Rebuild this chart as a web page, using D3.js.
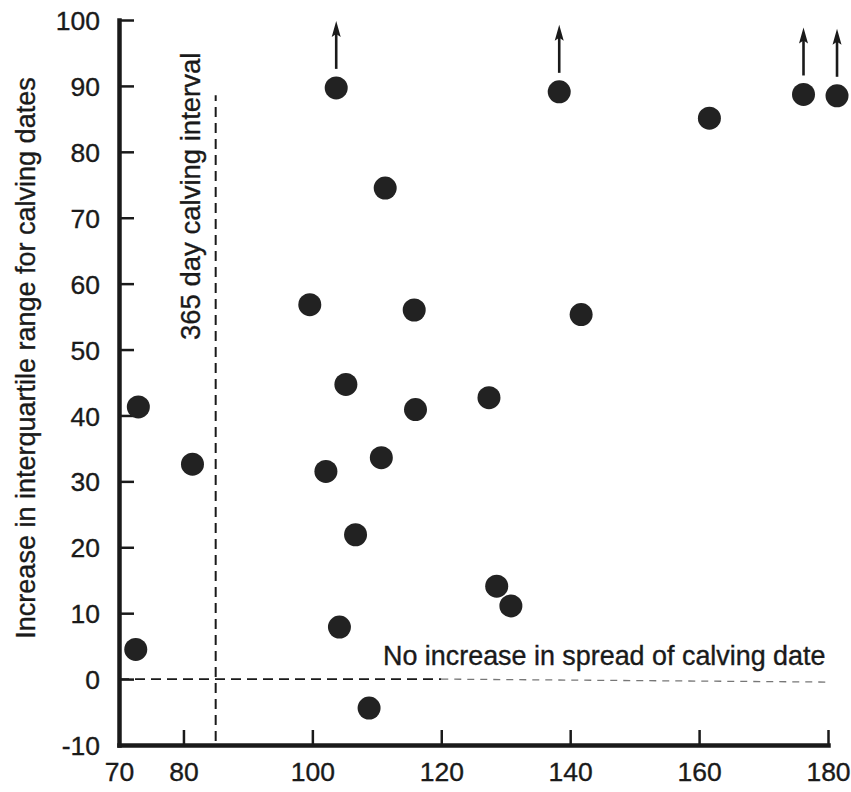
<!DOCTYPE html>
<html>
<head>
<meta charset="utf-8">
<script src="https://cdn.jsdelivr.net/npm/d3@7"></script>
<style>
  body { margin: 0; background: #fff; }
  svg { display: block; }
  text { font-family: "Liberation Sans", Arial, Helvetica, sans-serif; fill: #1a1a1a; stroke: #1a1a1a; stroke-width: 0.35px; }
</style>
</head>
<body>
<script>
// days of calving interval (x) vs increase in interquartile range (y)
const intervalDays = [73.0, 72.6, 81.4, 99.6, 103.7, 105.2, 102.1, 104.2, 106.7, 108.8, 111.3,
  110.7, 115.8, 116.0, 127.4, 128.6, 130.8, 138.3, 141.7, 161.6, 176.2, 181.4];
const rangeIncrease = [41.3, 4.5, 32.6, 56.8, 89.7, 44.7, 31.5, 7.9, 21.9, -4.4, 74.5,
  33.6, 56.0, 40.9, 42.7, 14.1, 11.1, 89.1, 55.3, 85.1, 88.7, 88.5];
// 1 = value runs off the top of the scale (drawn with an arrow)
const offScale = [0, 0, 0, 0, 1, 0, 0, 0, 0, 0, 0,
  0, 0, 0, 0, 0, 0, 1, 0, 0, 1, 1];

const xTicks = [70, 80, 100, 120, 140, 160, 180];
const yTicks = [-10, 0, 10, 20, 30, 40, 50, 60, 70, 80, 90, 100];

const calvingInterval365 = 85;   // x position of the 365 day line
const calvingLineTop = 88.6;
const noIncrease = 0;

const width = 851;
const height = 792;

const x = d3.scaleLinear().domain([70, 180]).range([119, 828]);
const y = d3.scaleLinear().domain([-10, 100]).range([745, 20]);

const svg = d3.select("body").append("svg")
  .attr("width", width)
  .attr("height", height);

// reference lines
svg.append("line")
  .attr("x1", x(calvingInterval365)).attr("x2", x(calvingInterval365))
  .attr("y1", y(-10) - 4).attr("y2", y(calvingLineTop))
  .attr("stroke", "#1a1a1a").attr("stroke-width", 2)
  .attr("stroke-dasharray", "10,6");

svg.append("line")
  .attr("x1", x(70)).attr("x2", x(120))
  .attr("y1", y(noIncrease)).attr("y2", y(noIncrease))
  .attr("stroke", "#1a1a1a").attr("stroke-width", 1.8)
  .attr("stroke-dasharray", "10,6");

svg.append("line")
  .attr("x1", x(120)).attr("x2", x(180))
  .attr("y1", y(noIncrease)).attr("y2", y(noIncrease) + 3)
  .attr("stroke", "#777").attr("stroke-width", 1.3)
  .attr("stroke-dasharray", "7,6");

// axes
const xAxis = (g) =>
  g.attr("transform", `translate(0,${y(-10)})`)
    .call(d3.axisBottom(x).tickValues(xTicks).tickFormat((d) => String(d))
      .tickSize(-15).tickSizeOuter(0).tickPadding(17))
    .call((g) => g.select(".domain").attr("stroke", "#1a1a1a").attr("stroke-width", 4.5).attr("stroke-linecap", "square"))
    .call((g) => g.selectAll(".tick line").attr("stroke", "#1a1a1a").attr("stroke-width", 2.5))
    .call((g) => g.selectAll(".tick").filter((d) => d === 70).select("line").remove())
    .call((g) => g.selectAll(".tick text").attr("font-size", 26.5).attr("font-family", null));

const yAxis = (g) =>
  g.attr("transform", `translate(${x(70)},0)`)
    .call(d3.axisLeft(y).tickValues(yTicks).tickFormat((d) => String(d))
      .tickSize(-15).tickSizeOuter(0).tickPadding(19))
    .call((g) => g.select(".domain").attr("stroke", "#1a1a1a").attr("stroke-width", 4.5).attr("stroke-linecap", "square"))
    .call((g) => g.selectAll(".tick line").attr("stroke", "#1a1a1a").attr("stroke-width", 2.5))
    .call((g) => g.selectAll(".tick").filter((d) => d === -10).select("line").remove())
    .call((g) => g.selectAll(".tick text").attr("font-size", 26.5).attr("font-family", null).attr("dy", "0.36em"));

svg.append("g").attr("class", "x-axis").call(xAxis);
svg.append("g").attr("class", "y-axis").call(yAxis);

// labels
svg.append("text")
  .attr("transform", "translate(35,358) rotate(-90)")
  .attr("text-anchor", "middle")
  .attr("font-size", 27)
  .text("Increase in interquartile range for calving dates");

svg.append("text")
  .attr("transform", `translate(${x(calvingInterval365) - 16},340) rotate(-90)`)
  .attr("text-anchor", "start")
  .attr("font-size", 27.5)
  .text("365 day calving interval");

svg.append("text")
  .attr("x", 383)
  .attr("y", 665)
  .attr("font-size", 26.9)
  .text("No increase in spread of calving date");

// points
const points = intervalDays.map((d, i) => ({ x: d, y: rangeIncrease[i], off: offScale[i] }));

svg.append("g")
  .attr("fill", "#222")
  .selectAll("circle")
  .data(points)
  .join("circle")
  .attr("cx", (d) => x(d.x))
  .attr("cy", (d) => y(d.y))
  .attr("r", 11.5);

// arrows for values beyond the scale
const arrows = svg.append("g")
  .selectAll("g")
  .data(points.filter((d) => d.off))
  .join("g")
  .attr("transform", (d) => `translate(${x(d.x)},${y(d.y)})`);

arrows.append("line")
  .attr("x1", 0).attr("x2", 0)
  .attr("y1", -19).attr("y2", -56)
  .attr("stroke", "#1a1a1a").attr("stroke-width", 2.6);

arrows.append("path")
  .attr("d", "M0,-67 L4.5,-51 L0,-54 L-4.5,-51 Z")
  .attr("fill", "#1a1a1a");
</script>
</body>
</html>
